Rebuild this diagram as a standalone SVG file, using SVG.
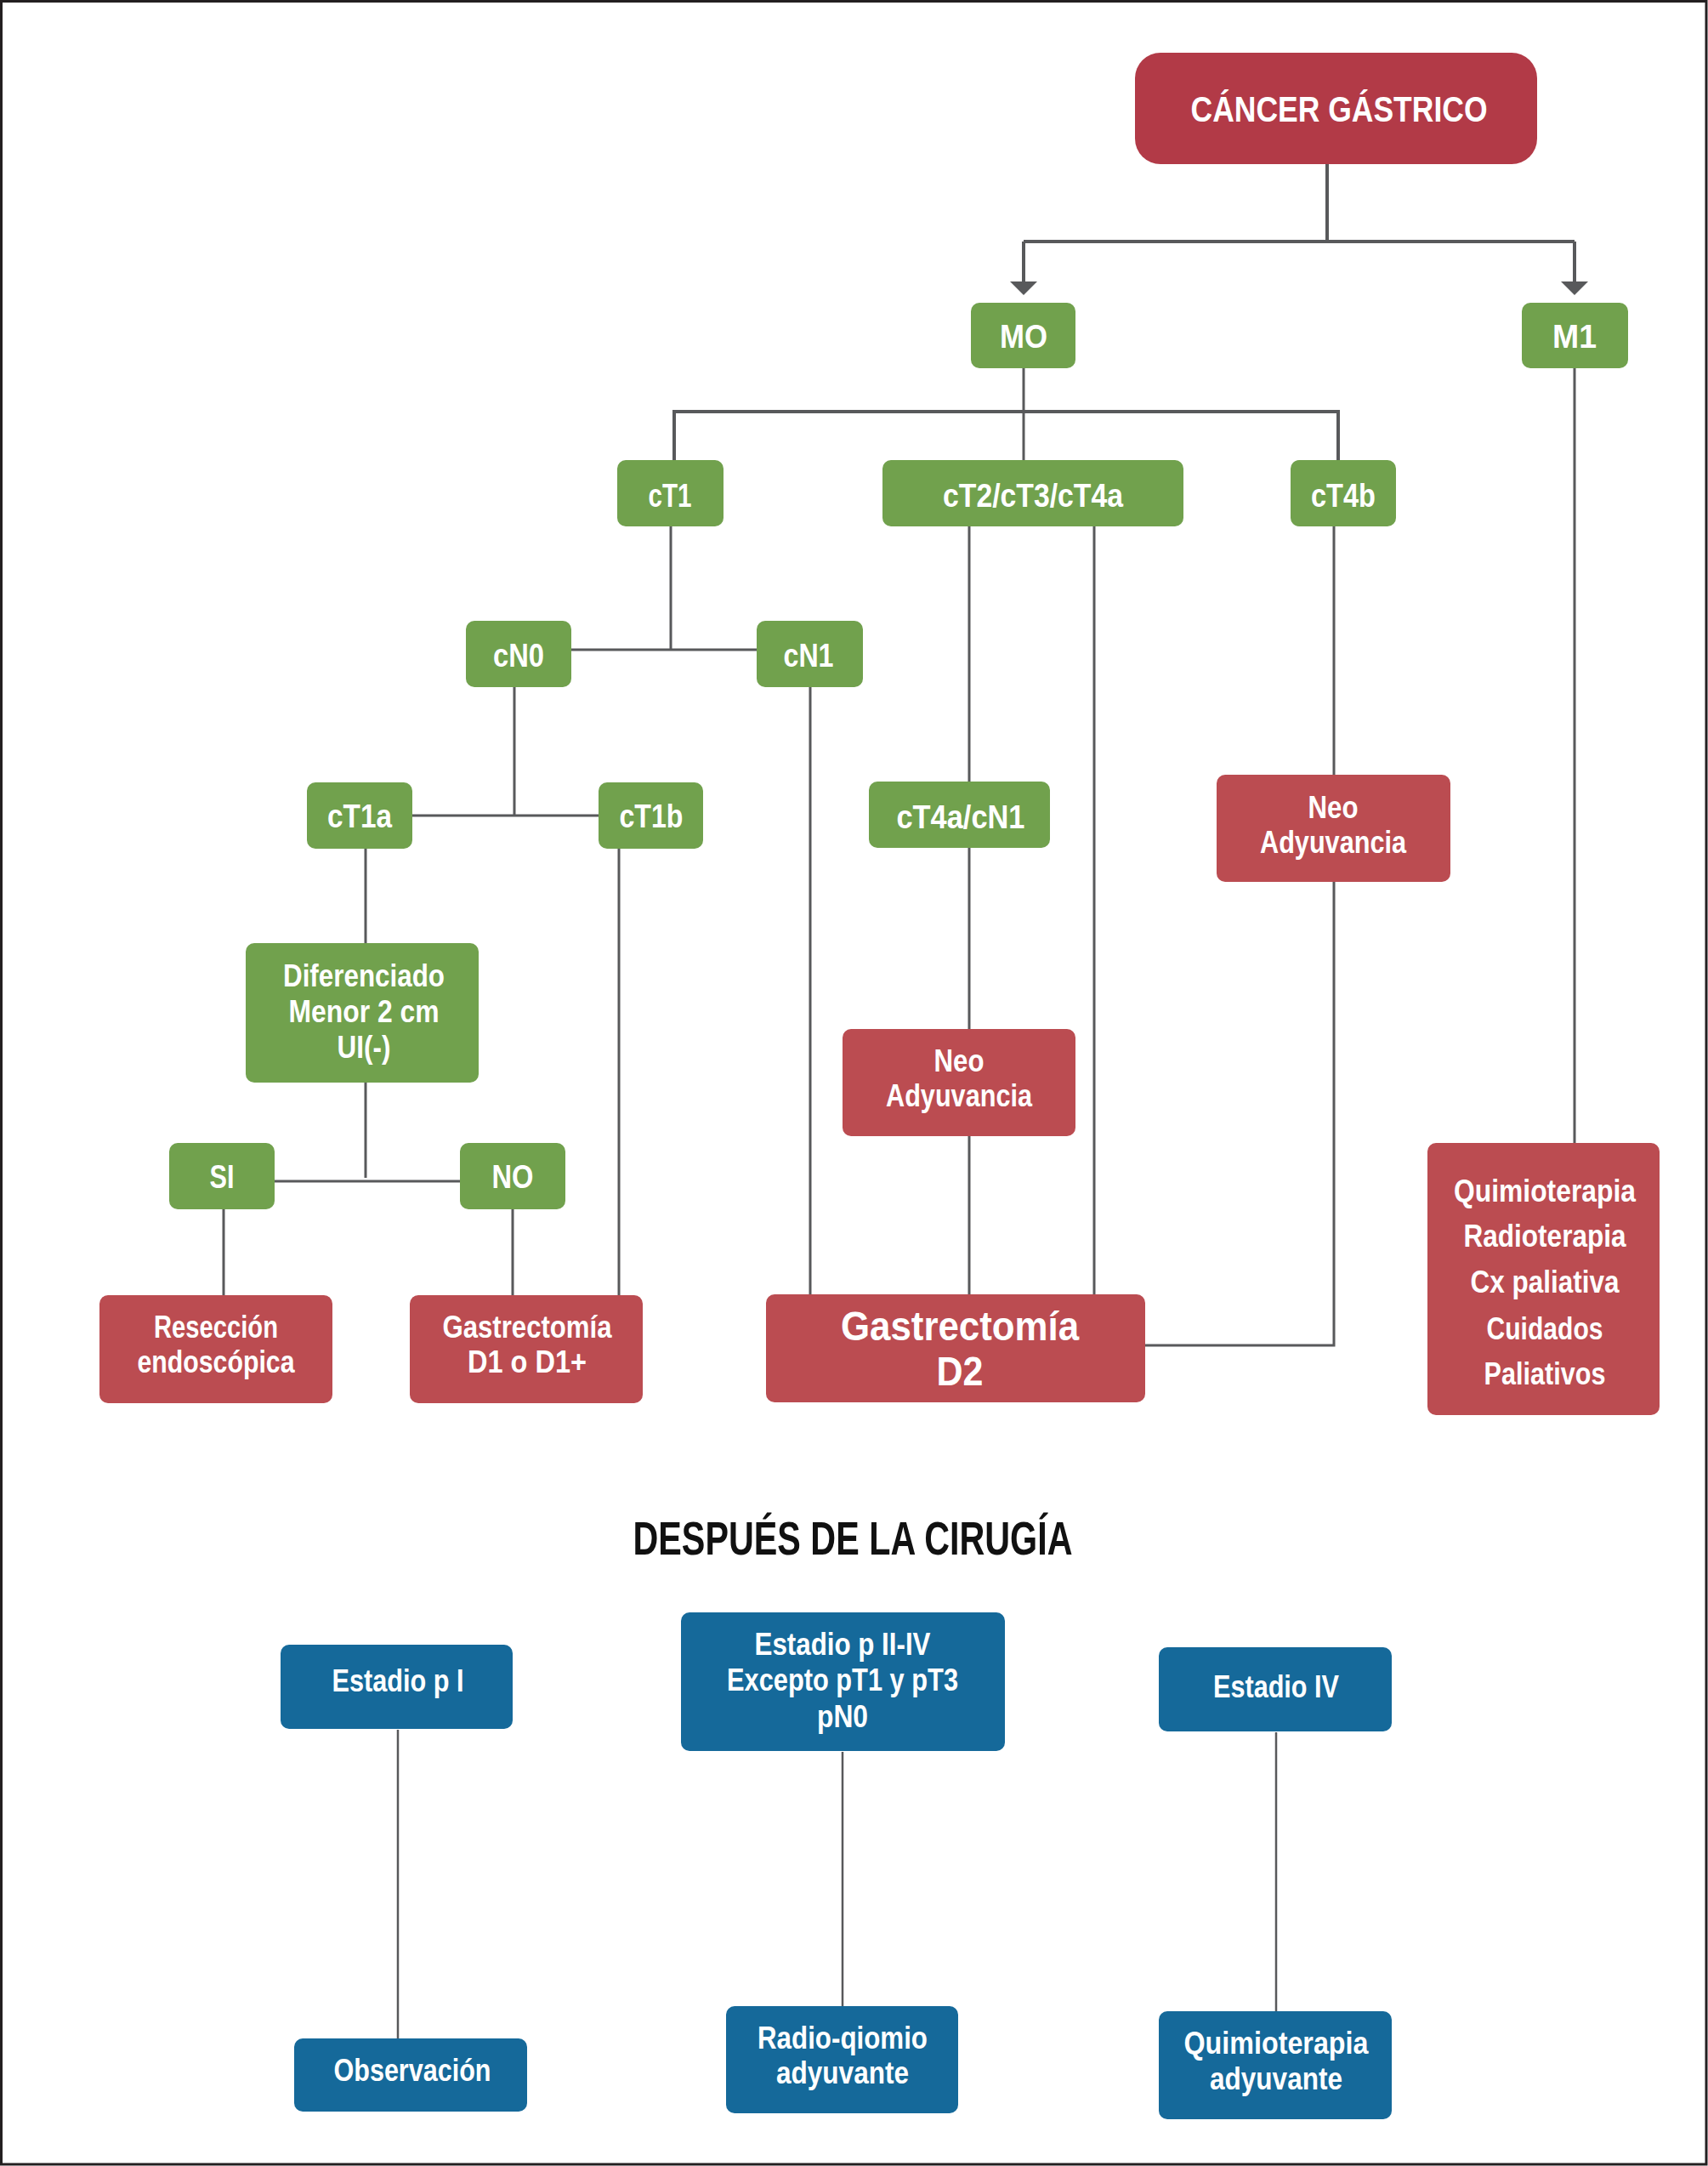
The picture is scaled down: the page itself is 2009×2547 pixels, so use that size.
<svg xmlns="http://www.w3.org/2000/svg" width="2009" height="2547" viewBox="0 0 2009 2547">
<style>
text{font-family:"Liberation Sans",Arial,sans-serif;font-weight:bold;fill:#fff;text-anchor:middle}
.g{fill:#71a14d}
.r{fill:#bb4c51}
.b{fill:#15699a}
.t38{font-size:38px}
.t36{font-size:36px}
.ln{fill:none;stroke:#58595b;stroke-width:3}
.thick{stroke-width:4}
.thin{stroke-width:2.5}
</style>
<defs>
<marker id="arr" viewBox="0 0 16 32" markerWidth="16" markerHeight="32" refX="4" refY="16" orient="auto" markerUnits="userSpaceOnUse">
<path d="M0,0 L16,16 L0,32 Z" fill="#58595b"/>
</marker>
</defs>
<rect x="1.5" y="1.5" width="2005.5" height="2543.5" fill="#fff" stroke="#231f20" stroke-width="3"/>

<g id="connectors">
<path class="ln thick" d="M1561,193 V284 M1204,284 H1852"/>
<path class="ln thick" d="M1204,284 V335" marker-end="url(#arr)"/>
<path class="ln thick" d="M1852,284 V335" marker-end="url(#arr)"/>
<path class="ln" d="M1204,433 V541"/>
<path class="ln thick" d="M793,541 V484 H1574 V541"/>
<path class="ln" d="M789,619 V764 M672,764 H890"/>
<path class="ln" d="M605,808 V959 M485,959 H704"/>
<path class="ln" d="M953,808 V1522"/>
<path class="ln" d="M430,998 V1109 M728,998 V1523"/>
<path class="ln" d="M430,1273 V1385 M323,1389 H541"/>
<path class="ln" d="M263,1422 V1523 M603,1422 V1523"/>
<path class="ln" d="M1140,619 V919 M1140,997 V1210 M1140,1336 V1522"/>
<path class="ln" d="M1287,619 V1522"/>
<path class="ln" d="M1569,619 V911 M1569,1037 V1582 H1347"/>
<path class="ln" d="M1852,433 V1344"/>
<path class="ln thin" d="M468,2034 V2397 M991,2060 V2359 M1501,2037 V2365"/>
</g>

<g id="cancer">
<rect x="1335" y="62" width="473" height="131" rx="30" fill="#b23a47"/>
<text x="1575" y="143" style="font-size:42px" textLength="349" lengthAdjust="spacingAndGlyphs">CÁNCER GÁSTRICO</text>
</g>
<g id="m0">
<rect class="g" x="1142" y="356" width="123" height="77" rx="10"/>
<text class="t38" x="1204" y="409" textLength="56" lengthAdjust="spacingAndGlyphs">MO</text>
</g>
<g id="m1">
<rect class="g" x="1790" y="356" width="125" height="77" rx="10"/>
<text class="t38" x="1852" y="409" textLength="52" lengthAdjust="spacingAndGlyphs">M1</text>
</g>
<g id="ct1">
<rect class="g" x="726" y="541" width="125" height="78" rx="10"/>
<text class="t38" x="788" y="596" textLength="51" lengthAdjust="spacingAndGlyphs">cT1</text>
</g>
<g id="ct2ct3ct4a">
<rect class="g" x="1038" y="541" width="354" height="78" rx="10"/>
<text class="t38" x="1215" y="596" textLength="212" lengthAdjust="spacingAndGlyphs">cT2/cT3/cT4a</text>
</g>
<g id="ct4b">
<rect class="g" x="1518" y="541" width="124" height="78" rx="10"/>
<text class="t38" x="1580" y="596" textLength="76" lengthAdjust="spacingAndGlyphs">cT4b</text>
</g>
<g id="cn0">
<rect class="g" x="548" y="730" width="124" height="78" rx="10"/>
<text class="t38" x="610" y="784" textLength="60" lengthAdjust="spacingAndGlyphs">cN0</text>
</g>
<g id="cn1">
<rect class="g" x="890" y="730" width="125" height="78" rx="10"/>
<text class="t38" x="951" y="784" textLength="59" lengthAdjust="spacingAndGlyphs">cN1</text>
</g>
<g id="ct1a">
<rect class="g" x="361" y="920" width="124" height="78" rx="10"/>
<text class="t38" x="423" y="973" textLength="76" lengthAdjust="spacingAndGlyphs">cT1a</text>
</g>
<g id="ct1b">
<rect class="g" x="704" y="920" width="123" height="78" rx="10"/>
<text class="t38" x="766" y="973" textLength="75" lengthAdjust="spacingAndGlyphs">cT1b</text>
</g>
<g id="ct4acn1">
<rect class="g" x="1022" y="919" width="213" height="78" rx="10"/>
<text class="t38" x="1130" y="974" textLength="151" lengthAdjust="spacingAndGlyphs">cT4a/cN1</text>
</g>
<g id="neo-cT4b">
<rect class="r" x="1431" y="911" width="275" height="126" rx="10"/>
<text class="t36" x="1568" y="962" textLength="59" lengthAdjust="spacingAndGlyphs">Neo</text>
<text class="t36" x="1568" y="1003" textLength="172" lengthAdjust="spacingAndGlyphs">Adyuvancia</text>
</g>
<g id="diferenciado">
<rect class="g" x="289" y="1109" width="274" height="164" rx="10"/>
<text class="t36" x="428" y="1160" textLength="190" lengthAdjust="spacingAndGlyphs">Diferenciado</text>
<text class="t36" x="428" y="1202" textLength="177" lengthAdjust="spacingAndGlyphs">Menor 2 cm</text>
<text class="t36" x="428" y="1244" textLength="63" lengthAdjust="spacingAndGlyphs">UI(-)</text>
</g>
<g id="neo-cT4a">
<rect class="r" x="991" y="1210" width="274" height="126" rx="10"/>
<text class="t36" x="1128" y="1260" textLength="59" lengthAdjust="spacingAndGlyphs">Neo</text>
<text class="t36" x="1128" y="1301" textLength="172" lengthAdjust="spacingAndGlyphs">Adyuvancia</text>
</g>
<g id="si">
<rect class="g" x="199" y="1344" width="124" height="78" rx="10"/>
<text class="t38" x="261" y="1397" textLength="29" lengthAdjust="spacingAndGlyphs">SI</text>
</g>
<g id="no">
<rect class="g" x="541" y="1344" width="124" height="78" rx="10"/>
<text class="t38" x="603" y="1397" textLength="49" lengthAdjust="spacingAndGlyphs">NO</text>
</g>
<g id="reseccion">
<rect class="r" x="117" y="1523" width="274" height="127" rx="10"/>
<text class="t36" x="254" y="1573" textLength="146" lengthAdjust="spacingAndGlyphs">Resección</text>
<text class="t36" x="254" y="1614" textLength="185" lengthAdjust="spacingAndGlyphs">endoscópica</text>
</g>
<g id="gastrectomia-d1">
<rect class="r" x="482" y="1523" width="274" height="127" rx="10"/>
<text class="t36" x="620" y="1573" textLength="199" lengthAdjust="spacingAndGlyphs">Gastrectomía</text>
<text class="t36" x="620" y="1614" textLength="140" lengthAdjust="spacingAndGlyphs">D1 o D1+</text>
</g>
<g id="gastrectomia-d2">
<rect class="r" x="901" y="1522" width="446" height="127" rx="10"/>
<text x="1129" y="1576" style="font-size:48px" textLength="280" lengthAdjust="spacingAndGlyphs">Gastrectomía</text>
<text x="1129" y="1629" style="font-size:48px" textLength="55" lengthAdjust="spacingAndGlyphs">D2</text>
</g>
<g id="paliativo">
<rect class="r" x="1679" y="1344" width="273" height="320" rx="10"/>
<text class="t36" x="1817" y="1413" textLength="214" lengthAdjust="spacingAndGlyphs">Quimioterapia</text>
<text class="t36" x="1817" y="1466" textLength="191" lengthAdjust="spacingAndGlyphs">Radioterapia</text>
<text class="t36" x="1817" y="1520" textLength="175" lengthAdjust="spacingAndGlyphs">Cx paliativa</text>
<text class="t36" x="1817" y="1575" textLength="137" lengthAdjust="spacingAndGlyphs">Cuidados</text>
<text class="t36" x="1817" y="1628" textLength="143" lengthAdjust="spacingAndGlyphs">Paliativos</text>
</g>

<g id="titulo">
<text x="1003" y="1828" style="font-size:56px;fill:#111" textLength="517" lengthAdjust="spacingAndGlyphs">DESPUÉS DE LA CIRUGÍA</text>
</g>
<g id="estadio-p-i">
<rect class="b" x="330" y="1934" width="273" height="99" rx="10"/>
<text class="t36" x="468" y="1989" textLength="155" lengthAdjust="spacingAndGlyphs">Estadio p I</text>
</g>
<g id="estadio-p-ii-iv">
<rect class="b" x="801" y="1896" width="381" height="163" rx="10"/>
<text class="t36" x="991" y="1946" textLength="207" lengthAdjust="spacingAndGlyphs">Estadio p II-IV</text>
<text class="t36" x="991" y="1988" textLength="272" lengthAdjust="spacingAndGlyphs">Excepto pT1 y pT3</text>
<text class="t36" x="991" y="2031" textLength="60" lengthAdjust="spacingAndGlyphs">pN0</text>
</g>
<g id="estadio-iv">
<rect class="b" x="1363" y="1937" width="274" height="99" rx="10"/>
<text class="t36" x="1501" y="1996" textLength="148" lengthAdjust="spacingAndGlyphs">Estadio IV</text>
</g>
<g id="observacion">
<rect class="b" x="346" y="2397" width="274" height="86" rx="10"/>
<text class="t36" x="485" y="2447" textLength="185" lengthAdjust="spacingAndGlyphs">Observación</text>
</g>
<g id="radio-qiomio">
<rect class="b" x="854" y="2359" width="273" height="126" rx="10"/>
<text class="t36" x="991" y="2409" textLength="200" lengthAdjust="spacingAndGlyphs">Radio-qiomio</text>
<text class="t36" x="991" y="2450" textLength="156" lengthAdjust="spacingAndGlyphs">adyuvante</text>
</g>
<g id="quimioterapia-adyuvante">
<rect class="b" x="1363" y="2365" width="274" height="127" rx="10"/>
<text class="t36" x="1501" y="2415" textLength="217" lengthAdjust="spacingAndGlyphs">Quimioterapia</text>
<text class="t36" x="1501" y="2457" textLength="156" lengthAdjust="spacingAndGlyphs">adyuvante</text>
</g>
</svg>
